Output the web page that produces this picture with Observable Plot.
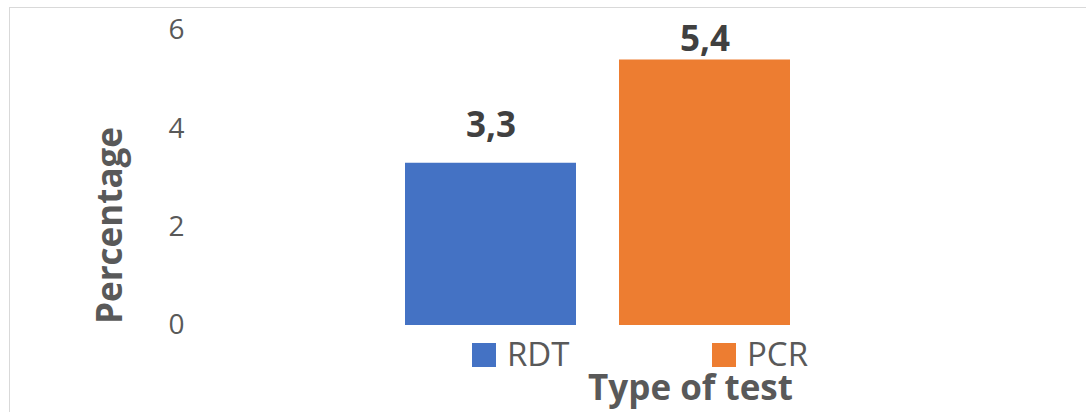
<!DOCTYPE html>
<html>
<head>
<meta charset="utf-8">
<script src="https://cdn.jsdelivr.net/npm/d3@7"></script>
<script src="https://cdn.jsdelivr.net/npm/@observablehq/plot@0.6"></script>
<style>
  html, body { margin: 0; padding: 0; background: #fff; }
  #wrap { position: relative; width: 1086px; height: 412px; overflow: hidden; font-family: "Open Sans", sans-serif; }
  #wrap svg { position: absolute; left: 0; top: 0; }
  #frame { position: absolute; left: 9px; top: 7px; width: 1200px; height: 500px; border-left: 1px solid #d9d9d9; border-top: 1px solid #d9d9d9; }
  #overlay { pointer-events: none; }
</style>
</head>
<body>
<div id="wrap">
  <div id="frame"></div>
  <div id="chart"></div>
  <svg id="overlay" width="1086" height="412" font-family="Open Sans, sans-serif">
    <g id="legend"></g>
    <text x="690.5" y="400" text-anchor="middle" font-size="35" font-weight="bold" fill="#595959">Type of test</text>
    <text transform="translate(122,225.5) rotate(-90)" text-anchor="middle" font-size="35" font-weight="bold" fill="#595959">Percentage</text>
  </svg>
</div>
<script>
const categories = ["RDT", "PCR"];
const values = [3.3, 5.4];
const labels = ["3,3", "5,4"];
const colors = ["#4472C4", "#ED7D31"];
const yTicks = [0, 2, 4, 6];

const data = categories.map((c, i) => ({test: c, value: values[i], label: labels[i]}));

const chart = Plot.plot({
  width: 1086,
  height: 412,
  marginTop: 30,
  marginBottom: 87,
  marginLeft: 190,
  marginRight: 253,
  style: {background: "transparent", fontFamily: "Open Sans, sans-serif", overflow: "visible"},
  x: {domain: categories, range: [362.2, 833], padding: 0.2, axis: null},
  y: {domain: [0, 6], ticks: yTicks, label: null},
  color: {domain: categories, range: colors},
  marks: [
    Plot.axisY({ticks: yTicks, tickFormat: d => String(d), tickSize: 0, tickPadding: 6, fontSize: 28, color: "#595959", label: null}),
    Plot.barY(data, {x: "test", y: "value", fill: "test"}),
    Plot.text(data.filter(d => d.test === "RDT"), {x: "test", y: "value", text: "label", dy: -37, fontSize: 35, fontWeight: "bold", fill: "#404040"}),
    Plot.text(data.filter(d => d.test === "PCR"), {x: "test", y: "value", text: "label", dy: -20, fontSize: 35, fontWeight: "bold", fill: "#404040"})
  ]
});
document.getElementById("chart").appendChild(chart);

// legend
const legendX = [472, 712];
const lg = d3.select("#legend");
categories.forEach((c, i) => {
  lg.append("rect").attr("x", legendX[i]).attr("y", 343).attr("width", 24).attr("height", 24).attr("fill", colors[i]);
  lg.append("text").attr("x", legendX[i] + 35).attr("y", 366).attr("font-size", 33).attr("fill", "#595959").text(c);
});
</script>
</body>
</html>
